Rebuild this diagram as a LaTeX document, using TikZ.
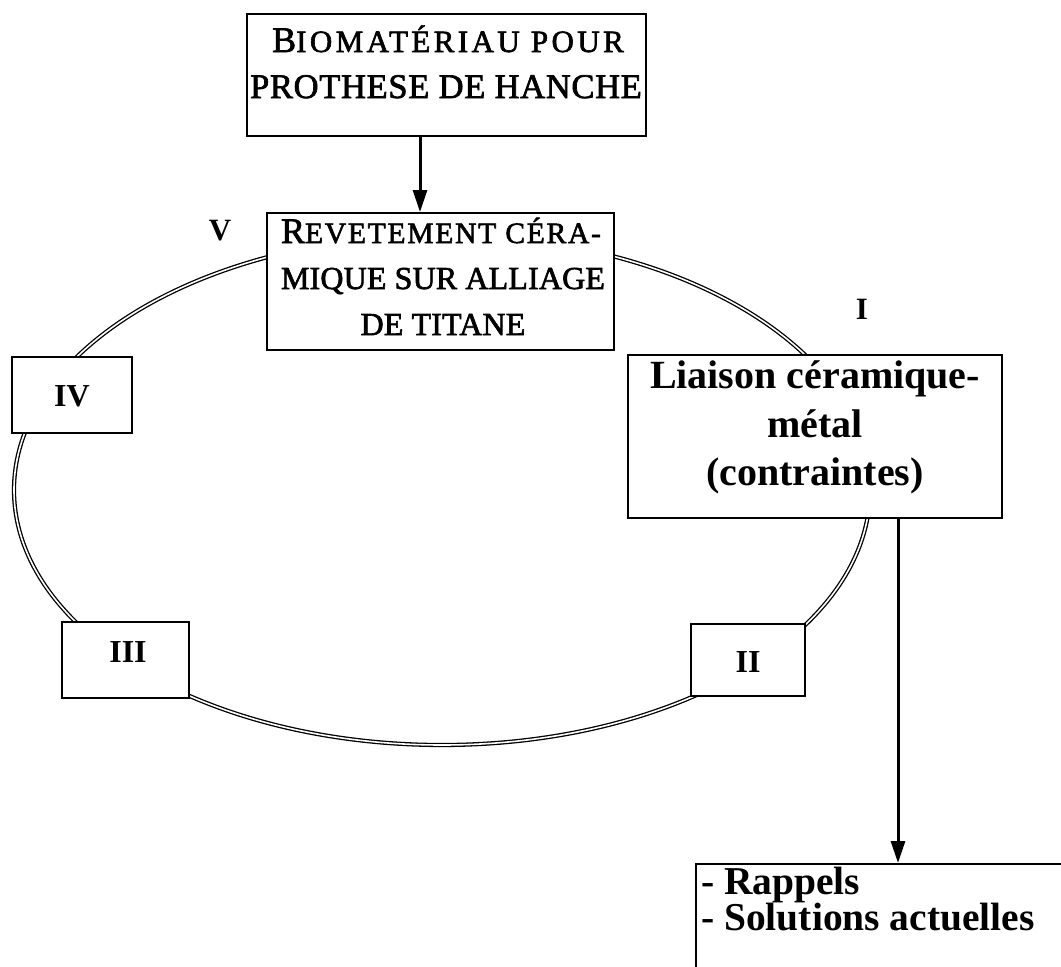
\documentclass[tikz,border=0pt]{standalone}
\usepackage{fontspec}
\setmainfont{Liberation Serif}
\usetikzlibrary{arrows.meta}
\newcommand\scbig[1]{{\fontsize{36}{36}\selectfont\addfontfeature{FakeBold=2}#1}}
\newcommand\scsmall[1]{{\fontsize{31}{31}\selectfont\addfontfeature{LetterSpace=11,FakeBold=2}#1}}
\newcommand\scsmallb[1]{{\fontsize{29.5}{29.5}\selectfont\addfontfeature{LetterSpace=6,FakeBold=2}#1}}
\begin{document}
\begin{tikzpicture}[x=1pt,y=-1pt,
  box/.style={draw, line width=2pt, fill=white, inner sep=0pt},
  arr/.style={line width=3pt, -{Triangle[length=22pt,width=14pt]}},
  txt/.style={inner sep=0pt, anchor=base},
  capline/.style={txt, font=\fontsize{34.5}{34.5}\selectfont\addfontfeature{LetterSpace=2,FakeBold=2}},
  capmid/.style={txt, font=\fontsize{32}{32}\selectfont\addfontfeature{LetterSpace=0.5,FakeBold=2}},
  boldline/.style={txt, font=\fontsize{40}{40}\selectfont\bfseries},
  roman/.style={txt, font=\fontsize{32}{32}\selectfont\bfseries},
  listline/.style={inner sep=0pt, anchor=base west, font=\fontsize{39.5}{39.5}\selectfont\bfseries}
]
\clip (0,0) rectangle (1061,967);
\useasboundingbox (0,0) rectangle (1061,967);
\fill[white] (0,0) rectangle (1061,967);

% ring
\draw[double=white, double distance=1.6pt, line width=1.3pt] (442,490) ellipse [x radius=428pt, y radius=255pt];

% boxes
\node[box, minimum width=399pt, minimum height=122pt] (top) at (446.5,75) {};
\node[box, minimum width=347pt, minimum height=137pt] (rev) at (440.5,281.5) {};
\node[box, minimum width=374pt, minimum height=163pt] (lia) at (815,436.5) {};
\node[box, minimum width=120pt, minimum height=76pt] (b4) at (72,395) {};
\node[box, minimum width=127pt, minimum height=76pt] (b3) at (125.5,660) {};
\node[box, minimum width=114pt, minimum height=72pt] (b2) at (748,660) {};
\node[box, anchor=north west, minimum width=420pt, minimum height=150pt] (bot) at (695,863) {};

% texts top box
\node[txt] (t1) at (448,52) {\scbig{B}\scsmall{IOMATÉRIAU POUR}};
\node[capline] (t2) at (446,98) {PROTHESE DE HANCHE};
% texts revetement box
\node[txt] (r1) at (441,243) {\scbig{R}\scsmallb{EVETEMENT CÉRA-}};
\node[capmid] (r2) at (443,289) {MIQUE SUR ALLIAGE};
\node[capmid] (r3) at (443,335) {DE TITANE};
% texts liaison box
\node[boldline] (l1) at (815,388) {Liaison céramique-};
\node[boldline] (l2) at (815,437) {métal};
\node[boldline] (l3) at (815,485) {(contraintes)};
% roman numerals
\node[roman] (n4) at (72,406) {IV};
\node[roman] (n3) at (128,662) {III};
\node[roman] (n2) at (748,672) {II};
\node[txt, font=\fontsize{31}{31}\selectfont\bfseries] (n1) at (862,319) {I};
\node[txt, font=\fontsize{31}{31}\selectfont\bfseries] (n5) at (220,240) {V};
% list
\node[listline] (p1) at (701,894) {- Rappels};
\node[listline] (p2) at (701,930) {- Solutions actuelles};

% arrows
\coordinate (a1) at (420,175);
\coordinate (a2) at (898,700);
\draw[arr] (top.south -| a1) -- (rev.north -| a1);
\draw[arr] (lia.south -| a2) -- (bot.north -| a2);
\end{tikzpicture}
\end{document}
